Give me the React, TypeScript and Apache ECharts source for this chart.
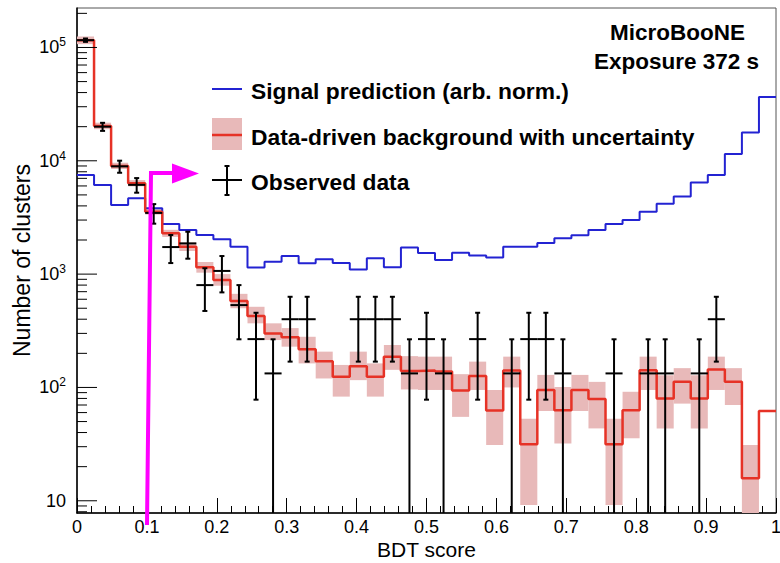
import React, { useEffect, useRef } from "react";
import * as echarts from "echarts";

// ---------- data ----------
const X_MIN = 0;
const X_MAX = 1;
const Y_MIN = 7.8;
const Y_MAX = 2.23e5;
const N_BINS = 41;

const xTickLabels = ["0", "0.1", "0.2", "0.3", "0.4", "0.5", "0.6", "0.7", "0.8", "0.9", "1"];

const signalPrediction = [
  7500, 6120, 4080, 4670, 3810, 2770, 2450, 2210, 2030, 1745, 1143, 1286, 1445, 1245, 1351, 1253,
  1099, 1378, 1150, 1718, 1535, 1332, 1540, 1460, 1400, 1745, 1745, 1886, 2075, 2200, 2450, 2770,
  3000, 3560, 4170, 4840, 6440, 7500, 11480, 17800, 36500,
];

const background = [
  116000, 20300, 9000, 6330, 3560, 2290, 1745, 1148, 887, 580, 428, 300, 278, 217, 170, 124, 154,
  124, 187, 140, 141, 138, 94, 126, 62.5, 141, 31.6, 95, 63, 95, 79, 31.6, 63, 142, 80, 112, 80, 144,
  112, 15.8, 62,
];

const backgroundLow = [
  107000, 19000, 8450, 5950, 3350, 2130, 1600, 1030, 790, 500, 368, 262, 229, 163, 120, 83, 116, 83,
  143, 96, 95, 95, 55, 95, 31, 100, 9.2, 62, 32, 62, 43.5, 9.2, 35.6, 95, 43.5, 72, 43.5, 95, 70, 5,
  62,
];

const backgroundHigh = [
  125000, 21700, 9600, 6750, 3800, 2460, 1900, 1280, 1000, 670, 515, 368, 334, 280, 207, 158, 207,
  163, 237, 189, 187, 187, 131, 169, 95, 187, 53, 129, 101, 129, 112, 53, 91.6, 187, 128, 148, 128,
  187, 148, 31, 62,
];

const observed = [
  116000, 20000, 8933, 6133, 3467, 1733, 1867, 800, 1067, 533, 267, 133, 400, 400, null, null, 400,
  400, 400, 133, 267, 133, null, 267, null, 133, 267, 267, 133, null, null, 133, null, 133, 133, null,
  133, 400, null, null, null,
];

const observedError = [
  3930, 1633, 1091, 904, 680, 481, 499, 327, 377, 267, 189, 133, 231, 231, null, null, 231, 231, 231,
  133, 189, 133, null, 189, null, 133, 189, 189, 133, null, null, 133, null, 133, 133, null, 133, 231,
  null, null, null,
];

const yMajorTicks = [10, 100, 1000, 10000, 100000];
const yMinorTicks = [
  8, 9, 20, 30, 40, 50, 60, 70, 80, 90, 200, 300, 400, 500, 600, 700, 800, 900, 2000, 3000, 4000,
  5000, 6000, 7000, 8000, 9000, 20000, 30000, 40000, 50000, 60000, 70000, 80000, 90000, 200000,
];

const legendLabels = [
  "Signal prediction (arb. norm.)",
  "Data-driven background with uncertainty",
  "Observed data",
];
const headerLines = ["MicroBooNE", "Exposure 372 s"];

// ---------- styles ----------
const FONT = '"Liberation Sans", Arial, Helvetica, sans-serif';
const BLUE = "#2323d2";
const RED = "#e63226";
const PINK = "#e8b9b9";
const MAGENTA = "#ff00ff";

const binEdges = Array.from({ length: N_BINS + 1 }, (_, k) => X_MIN + ((X_MAX - X_MIN) * k) / N_BINS);

function stepData(values: number[]) {
  const pts = values.map((v, k) => [binEdges[k], v]);
  pts.push([binEdges[N_BINS], values[values.length - 1]]);
  return pts;
}

function seg(x1: number, y1: number, x2: number, y2: number, color: string, w: number) {
  return { type: "line", shape: { x1, y1, x2, y2 }, style: { stroke: color, lineWidth: w } };
}

function buildOption() {
  const bandData = background.map((_, k) => [binEdges[k], binEdges[k + 1], backgroundLow[k], backgroundHigh[k]]);
  const obsData: number[][] = [];
  observed.forEach((v, k) => {
    if (v !== null && observedError[k] !== null) {
      obsData.push([binEdges[k], binEdges[k + 1], v as number, observedError[k] as number]);
    }
  });
  const tickData = [
    ...yMajorTicks.map((v) => [X_MIN, v, 20]),
    ...yMinorTicks.map((v) => [X_MIN, v, 10]),
  ];

  const textStyle = (size: number, weight: string) => ({
    fontSize: size,
    fontWeight: weight,
    fontFamily: FONT,
    fill: "#000",
  });

  return {
    animation: false,
    backgroundColor: "#fff",
    grid: {
      left: 77,
      right: 4,
      top: 8,
      bottom: 50,
      show: true,
      borderColor: "#555",
      borderWidth: 1,
      containLabel: false,
      outerBoundsMode: "none",
    },
    xAxis: {
      type: "value",
      min: X_MIN,
      max: X_MAX,
      interval: 0.1,
      name: "BDT score",
      nameLocation: "middle",
      nameGap: 26,
      nameMoveOverlap: false,
      nameTextStyle: { fontSize: 21, fontFamily: FONT, color: "#000", lineHeight: 21 },
      axisLine: { show: true, onZero: false, lineStyle: { color: "#000", width: 1.5 } },
      axisTick: { show: true, inside: true, length: 15, lineStyle: { color: "#000", width: 1 } },
      minorTick: { show: true, splitNumber: 5, length: 7, lineStyle: { color: "#000", width: 1 } },
      splitLine: { show: false },
      axisLabel: {
        margin: 4.5,
        fontSize: 18,
        fontFamily: FONT,
        color: "#000",
        formatter: (v: number) => xTickLabels[Math.round(v * 10)] ?? "",
      },
    },
    yAxis: {
      type: "log",
      logBase: 10,
      min: Y_MIN,
      max: Y_MAX,
      name: "Number of clusters",
      nameLocation: "middle",
      nameGap: 44,
      nameMoveOverlap: false,
      nameTextStyle: { fontSize: 23, fontFamily: FONT, color: "#000" },
      axisLine: { show: true, lineStyle: { color: "#000", width: 1.5 } },
      axisTick: { show: false },
      minorTick: { show: false },
      splitLine: { show: false },
      axisLabel: {
        margin: 11,
        showMinLabel: false,
        showMaxLabel: false,
        formatter: (v: number) => {
          const l = Math.log10(v);
          const e = Math.round(l);
          if (Math.abs(l - e) > 1e-6) return "";
          if (e === 1) return "{b|10}";
          return "{b|10}{s|" + e + "}";
        },
        rich: {
          b: { fontSize: 18, fontFamily: FONT, color: "#000", lineHeight: 22 },
          s: { fontSize: 12, fontFamily: FONT, color: "#000", verticalAlign: "top", lineHeight: 22 },
        },
      },
    },
    series: [
      {
        type: "custom",
        name: "band",
        silent: true,
        z: 1,
        encode: { x: [0, 1], y: [2, 3] },
        data: bandData,
        renderItem: (params: any, api: any) => {
          const x0 = api.value(0);
          const x1 = api.value(1);
          const lo = Math.max(api.value(2), Y_MIN);
          const hi = Math.min(api.value(3), Y_MAX);
          if (!(hi > lo)) return { type: "group", children: [] };
          const p0 = api.coord([x0, hi]);
          const p1 = api.coord([x1, lo]);
          return {
            type: "rect",
            shape: { x: p0[0], y: p0[1], width: p1[0] - p0[0], height: p1[1] - p0[1] },
            style: { fill: PINK },
          };
        },
      },
      {
        type: "line",
        name: legendLabels[0],
        step: "end",
        silent: true,
        z: 2,
        symbol: "none",
        data: stepData(signalPrediction),
        lineStyle: { color: BLUE, width: 2 },
      },
      {
        type: "line",
        name: legendLabels[1],
        step: "end",
        silent: true,
        z: 3,
        symbol: "none",
        data: stepData(background),
        lineStyle: { color: RED, width: 2.5 },
      },
      {
        type: "custom",
        name: legendLabels[2],
        silent: true,
        z: 4,
        encode: { x: [0, 1], y: [2] },
        data: obsData,
        renderItem: (params: any, api: any) => {
          const x0 = api.value(0);
          const x1 = api.value(1);
          const v = api.value(2);
          const e = api.value(3);
          const xc = (x0 + x1) / 2;
          const pL = api.coord([x0, v]);
          const pR = api.coord([x1, v]);
          const top = api.coord([xc, Math.min(v + e, Y_MAX)]);
          const lowClipped = !(v - e > Y_MIN);
          const bot = api.coord([xc, lowClipped ? Y_MIN : v - e]);
          const cap = 2.5;
          const children: any[] = [
            seg(pL[0], pL[1], pR[0], pR[1], "#000", 2),
            seg(top[0], top[1], bot[0], bot[1], "#000", 2),
            seg(top[0] - cap, top[1], top[0] + cap, top[1], "#000", 2),
          ];
          if (!lowClipped) children.push(seg(bot[0] - cap, bot[1], bot[0] + cap, bot[1], "#000", 2));
          return { type: "group", children };
        },
      },
      {
        type: "custom",
        name: "yticks",
        silent: true,
        z: 5,
        encode: { x: [0], y: [1] },
        data: tickData,
        renderItem: (params: any, api: any) => {
          const p = api.coord([api.value(0), api.value(1)]);
          const len = api.value(2);
          return seg(p[0], p[1], p[0] + len, p[1], "#000", 1);
        },
      },
    ],
    graphic: [
      // header
      {
        type: "text",
        x: 745,
        y: 32,
        z: 10,
        style: { ...textStyle(22.5, "bold"), text: headerLines[0], align: "right", textAlign: "right", verticalAlign: "middle", textVerticalAlign: "middle" },
      },
      {
        type: "text",
        x: 759,
        y: 61,
        z: 10,
        style: { ...textStyle(22.5, "bold"), text: headerLines[1], align: "right", textAlign: "right", verticalAlign: "middle", textVerticalAlign: "middle" },
      },
      // legend: signal
      { type: "line", z: 10, shape: { x1: 212, y1: 89, x2: 242, y2: 89 }, style: { stroke: BLUE, lineWidth: 2 } },
      {
        type: "text",
        x: 251,
        y: 91,
        z: 10,
        style: { ...textStyle(22.8, "bold"), text: legendLabels[0], align: "left", textAlign: "left", verticalAlign: "middle", textVerticalAlign: "middle" },
      },
      // legend: background
      { type: "rect", z: 10, shape: { x: 212, y: 118, width: 30, height: 32 }, style: { fill: PINK } },
      { type: "line", z: 11, shape: { x1: 212, y1: 135, x2: 242, y2: 135 }, style: { stroke: RED, lineWidth: 2.5 } },
      {
        type: "text",
        x: 251,
        y: 136.5,
        z: 10,
        style: { ...textStyle(22.8, "bold"), text: legendLabels[1], align: "left", textAlign: "left", verticalAlign: "middle", textVerticalAlign: "middle" },
      },
      // legend: data
      { type: "line", z: 10, shape: { x1: 212, y1: 180, x2: 242, y2: 180 }, style: { stroke: "#000", lineWidth: 2 } },
      { type: "line", z: 10, shape: { x1: 227, y1: 166, x2: 227, y2: 195 }, style: { stroke: "#000", lineWidth: 2 } },
      { type: "line", z: 10, shape: { x1: 224.5, y1: 166, x2: 229.5, y2: 166 }, style: { stroke: "#000", lineWidth: 2 } },
      { type: "line", z: 10, shape: { x1: 224.5, y1: 195, x2: 229.5, y2: 195 }, style: { stroke: "#000", lineWidth: 2 } },
      {
        type: "text",
        x: 251,
        y: 181.5,
        z: 10,
        style: { ...textStyle(22.8, "bold"), text: legendLabels[2], align: "left", textAlign: "left", verticalAlign: "middle", textVerticalAlign: "middle" },
      },
      // magenta arrow annotation
      {
        type: "polyline",
        z: 20,
        shape: { points: [[147, 525], [151, 173], [175, 173]] },
        style: { stroke: MAGENTA, lineWidth: 4, fill: null },
      },
      {
        type: "polygon",
        z: 20,
        shape: { points: [[172, 163.5], [199, 173.5], [172, 183.5]] },
        style: { fill: MAGENTA },
      },
    ],
  };
}

export default function App() {
  const ref = useRef<HTMLDivElement>(null);
  useEffect(() => {
    if (!ref.current) return;
    const chart = echarts.init(ref.current, undefined, { renderer: "svg" });
    chart.setOption(buildOption() as any);
    return () => {
      chart.dispose();
    };
  }, []);
  return (
    <div
      ref={ref}
      style={{ position: "fixed", left: 0, top: 0, width: 780, height: 563, background: "#fff" }}
    />
  );
}
